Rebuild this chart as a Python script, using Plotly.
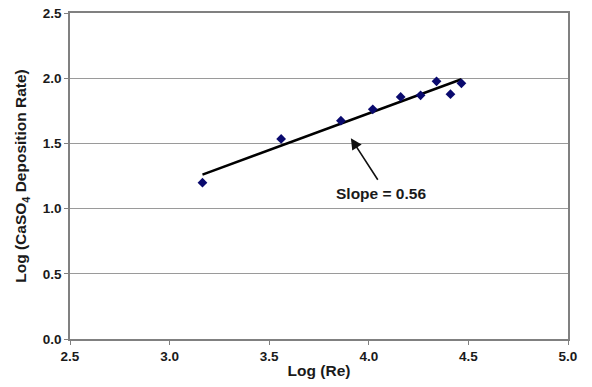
import numpy as np
import plotly.graph_objects as go

log_re = [3.165, 3.56, 3.86, 4.02, 4.16, 4.26, 4.34, 4.41, 4.465]
log_rate = [1.199, 1.534, 1.674, 1.761, 1.856, 1.869, 1.976, 1.877, 1.961]
x_ticks = [2.5, 3.0, 3.5, 4.0, 4.5, 5.0]
y_ticks = [0.0, 0.5, 1.0, 1.5, 2.0, 2.5]

slope, intercept = np.polyfit(log_re, log_rate, 1)
fit_x = [min(log_re), max(log_re)]
fit_y = [slope * v + intercept for v in fit_x]

FONT = "Liberation Sans, Arial, sans-serif"
TXT = "#1a1a1a"

fig = go.Figure()
fig.add_trace(go.Scatter(x=fit_x, y=fit_y, mode="lines",
                         line=dict(color="black", width=2.5), showlegend=False))
fig.add_trace(go.Scatter(x=log_re, y=log_rate, mode="markers",
                         marker=dict(symbol="diamond", color="#0a0a6e", size=7.5),
                         showlegend=False))

fig.add_annotation(x=3.91, y=1.54, ax=4.05, ay=1.21, xref="x", yref="y",
                   axref="x", ayref="y", text="", showarrow=True,
                   arrowhead=2, arrowsize=1.4, arrowwidth=1.6, arrowcolor="#111")
fig.add_annotation(x=4.059, y=1.116, xref="x", yref="y", showarrow=False,
                   text="<b>Slope = 0.56</b>",
                   font=dict(family=FONT, size=15.5, color=TXT))

axis_common = dict(showline=True, linecolor="#808080", linewidth=1.5, mirror=True,
                   ticks="outside", ticklen=4, tickcolor="#808080", zeroline=False,
                   automargin=False,
                   tickfont=dict(family=FONT, size=13.5, color=TXT))

fig.update_xaxes(range=[2.5, 5.0], tickvals=x_ticks,
                 ticktext=[f"<b>{v:.1f}</b>" for v in x_ticks], showgrid=False,
                 title=dict(text="<b>Log (Re)</b>", standoff=2,
                            font=dict(family=FONT, size=15.5, color=TXT)),
                 **axis_common)
fig.update_yaxes(range=[0, 2.5], tickvals=y_ticks,
                 ticktext=[f"<b>{v:.1f}</b>" for v in y_ticks], showgrid=True,
                 gridcolor="#9a9a9a", gridwidth=1,
                 title=dict(text="<b>Log (CaSO<sub>4</sub> Deposition Rate)</b>", standoff=12,
                            font=dict(family=FONT, size=15.5, color=TXT)),
                 **axis_common)

fig.update_layout(width=592, height=387, margin=dict(l=70, r=24, t=13, b=48, autoexpand=False),
                  plot_bgcolor="white", paper_bgcolor="white")
fig.write_html("out.html", config={"displayModeBar": False},
               post_script="document.body.style.margin='0';")
